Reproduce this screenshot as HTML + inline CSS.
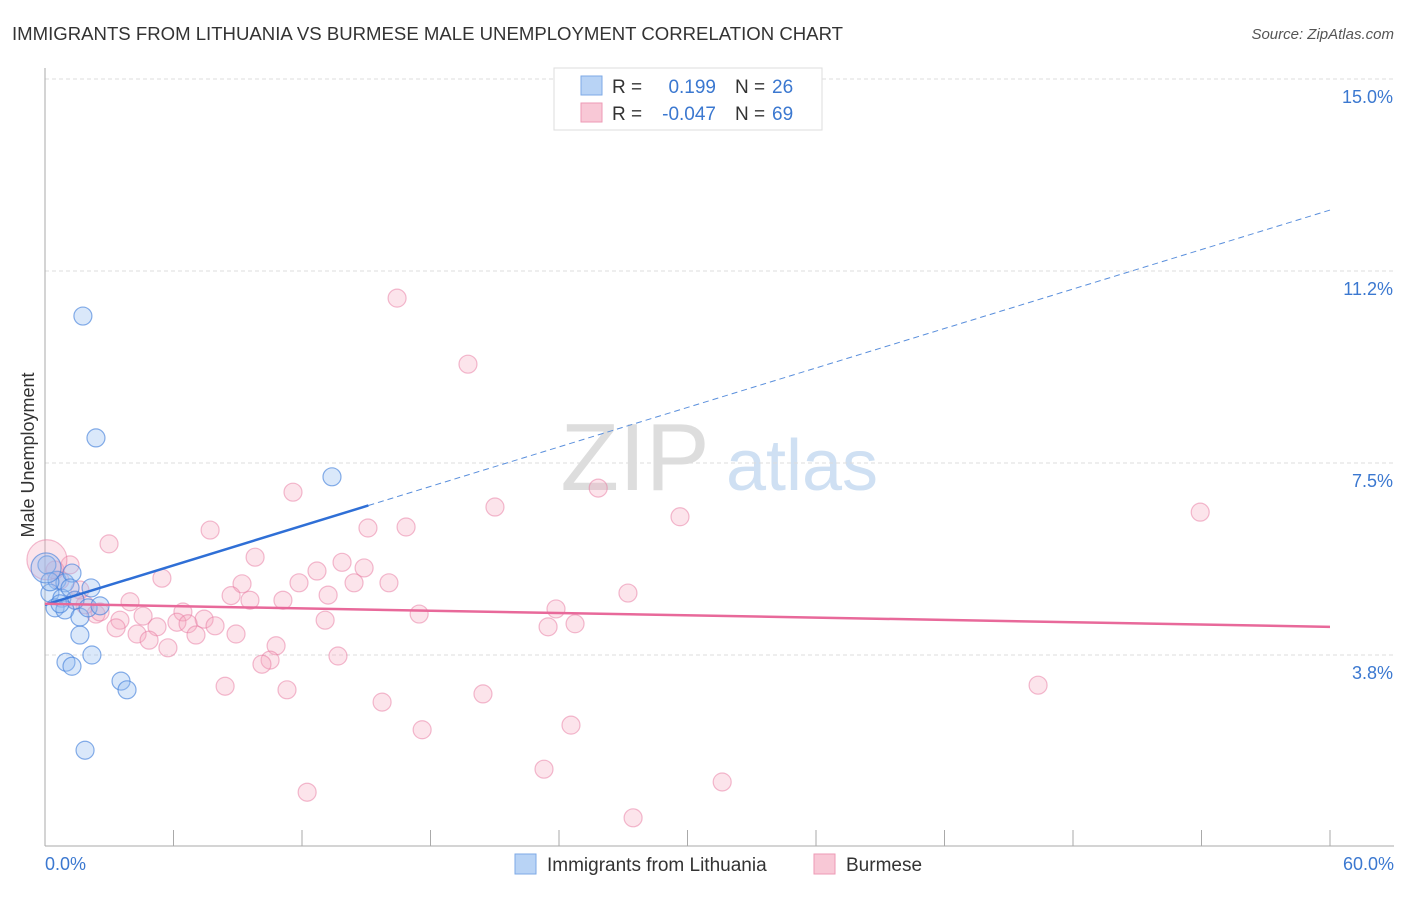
<!DOCTYPE html>
<html><head><meta charset="utf-8"><style>
body{margin:0;background:#fff;font-family:"Liberation Sans",sans-serif}
svg text{font-family:"Liberation Sans",sans-serif}
</style></head><body>
<svg id="c" width="1406" height="892" xmlns="http://www.w3.org/2000/svg">
<text x="12" y="40" font-size="18" fill="#333" textLength="831" lengthAdjust="spacingAndGlyphs">IMMIGRANTS FROM LITHUANIA VS BURMESE MALE UNEMPLOYMENT CORRELATION CHART</text>
<text x="1394" y="39" font-size="15" fill="#555" font-style="italic" text-anchor="end">Source: ZipAtlas.com</text>
<text x="635" y="490" font-size="96" fill="#ddd" font-family="Liberation Serif" text-anchor="middle">ZIP</text>
<text x="802" y="490" font-size="72" fill="#cfe0f3" text-anchor="middle">atlas</text>
<text transform="translate(34,455) rotate(-90)" font-size="18" fill="#333" text-anchor="middle">Male Unemployment</text>
<g id="grid"></g><g id="marks"></g><g id="lines"></g>
<g>
<rect x="554" y="68" width="268" height="62" fill="#fff" stroke="#ddd"/>
<rect x="581" y="76" width="21" height="19" fill="#b8d3f5" stroke="#7eaae6"/>
<rect x="581" y="103" width="21" height="19" fill="#f8c8d6" stroke="#ee9ab5"/>
<text x="612" y="93" font-size="19" fill="#333">R =</text><text x="716" y="93" font-size="19" fill="#3b78d0" text-anchor="end">0.199</text>
<text x="735" y="93" font-size="19" fill="#333">N =</text><text x="772" y="93" font-size="19" fill="#3b78d0">26</text>
<text x="612" y="120" font-size="19" fill="#333">R =</text><text x="716" y="120" font-size="19" fill="#3b78d0" text-anchor="end">-0.047</text>
<text x="735" y="120" font-size="19" fill="#333">N =</text><text x="772" y="120" font-size="19" fill="#3b78d0">69</text>
</g>
<g>
<rect x="515" y="854" width="21" height="20" fill="#b8d3f5" stroke="#7eaae6"/>
<text x="547" y="871" font-size="19" fill="#333">Immigrants from Lithuania</text>
<rect x="814" y="854" width="21" height="20" fill="#f8c8d6" stroke="#ee9ab5"/>
<text x="846" y="871" font-size="19" fill="#333">Burmese</text>
</g>
</svg>
<script>
const blueX=[1.77,2.38,13.40,0.09,0.56,0.93,1.26,0.23,0.79,1.40,2.15,0.47,0.93,1.63,2.01,1.63,0.98,1.26,2.19,3.55,3.83,1.87,2.57,0.70,1.17,0.23,0.05];
const blueY=[10.37,7.99,7.23,5.51,5.21,5.16,5.35,4.96,4.86,4.82,5.06,4.67,4.63,4.49,4.67,4.14,3.61,3.53,3.75,3.24,3.07,1.89,4.71,4.75,5.06,5.18,5.45];
const blueR=[9,9,9,9,9,9,9,9,9,9,9,9,9,9,9,9,9,9,9,9,9,9,9,9,9,9,15];
const pinkX=[16.44,19.75,11.58,25.83,21.01,29.65,53.94,7.71,15.08,16.86,2.99,9.81,13.87,14.90,12.70,5.46,11.86,16.06,14.43,9.20,8.69,13.22,9.57,11.11,27.22,23.86,17.47,3.97,6.44,4.58,7.43,2.38,3.50,6.16,13.08,7.94,6.68,5.23,3.32,23.49,24.75,4.30,8.92,7.05,4.86,5.74,10.79,13.68,10.51,10.13,8.41,11.30,20.45,46.37,15.74,24.56,17.61,23.30,31.62,12.24,27.46,1.17,0.70,1.87,1.63,0.47,0.09,2.57,1.40];
const pinkY=[10.72,9.43,6.93,7.01,6.64,6.45,6.54,6.19,6.23,6.25,5.92,5.66,5.56,5.45,5.39,5.25,5.16,5.16,5.16,5.14,4.91,4.92,4.82,4.82,4.96,4.65,4.55,4.79,4.59,4.51,4.45,4.55,4.43,4.39,4.43,4.32,4.36,4.30,4.28,4.30,4.36,4.16,4.16,4.14,4.04,3.89,3.93,3.73,3.65,3.57,3.14,3.07,2.99,3.16,2.83,2.38,2.29,1.52,1.27,1.07,0.57,5.51,5.21,4.73,5.02,5.41,5.61,4.59,4.82];
const yTicks=[3.8,7.5,11.2,15.0];
const yTickVals=[3.75,7.5,11.25,15.0];
const xTickLabels=["0.0%","60.0%"];
const blueTrend=[4.73,12.44];
const pinkTrend=[4.75,4.30];
const blueSolidEnd=15.1;
const X=v=>45+v/60*1285, Y=v=>655-(v-3.75)/3.75*192;
const NS="http://www.w3.org/2000/svg";
function mk(p,t,a){const e=document.createElementNS(NS,t);for(const k in a)e.setAttribute(k,a[k]);p.appendChild(e);return e;}
const grid=document.getElementById('grid'),marks=document.getElementById('marks'),lines=document.getElementById('lines');
yTickVals.forEach((v,i)=>{
 const g=mk(grid,'line',{x1:45,x2:1394,y1:Y(v),y2:Y(v),stroke:'#ddd','stroke-dasharray':'4,3'});
 
 
 const t=mk(grid,'text',{x:1393,y:Y(v)+24,'font-size':18,fill:'#3b78d0','text-anchor':'end'});t.textContent=yTicks[i].toFixed(1)+'%';
 
 
});
const ax=mk(grid,'line',{x1:45,x2:45,y1:68,y2:846,stroke:'#aaa'});


const bx=mk(grid,'line',{x1:45,x2:1394,y1:846,y2:846,stroke:'#aaa'});


for(let v=6;v<=60;v+=6){const t=mk(grid,'line',{x1:X(v),x2:X(v),y1:830,y2:846,stroke:'#aaa'});
 
 }
[[0,'start',45],[60,'end',1394]].forEach((a,i)=>{const t=mk(grid,'text',{x:a[2],y:870,'font-size':18,fill:'#3b78d0','text-anchor':a[1]});t.textContent=xTickLabels[i];
 
 });
pinkX.forEach((x,i)=>{const c=mk(marks,'circle',{cx:X(x),cy:Y(pinkY[i]),r:i==66?20:9,fill:'rgba(245,165,190,0.3)',stroke:'rgba(232,120,160,0.5)','stroke-width':1.2});
 
 });
blueX.forEach((x,i)=>{const c=mk(marks,'circle',{cx:X(x),cy:Y(blueY[i]),r:blueR[i],fill:'rgba(150,190,240,0.35)',stroke:'rgba(70,130,220,0.65)','stroke-width':1.2});
 
 });
const bt=v=>blueTrend[0]+(blueTrend[1]-blueTrend[0])*v/60;
const l1=mk(lines,'line',{x1:X(0),y1:Y(bt(0)),x2:X(blueSolidEnd),y2:Y(bt(blueSolidEnd)),stroke:'#2f6fd6','stroke-width':2.5});


const l2=mk(lines,'line',{x1:X(blueSolidEnd),y1:Y(bt(blueSolidEnd)),x2:X(60),y2:Y(bt(60)),stroke:'#5a8fdc','stroke-width':1,'stroke-dasharray':'6,4'});


const l3=mk(lines,'line',{x1:X(0),y1:Y(pinkTrend[0]),x2:X(60),y2:Y(pinkTrend[1]),stroke:'#e8699a','stroke-width':2.5});


</script>
</body></html>
